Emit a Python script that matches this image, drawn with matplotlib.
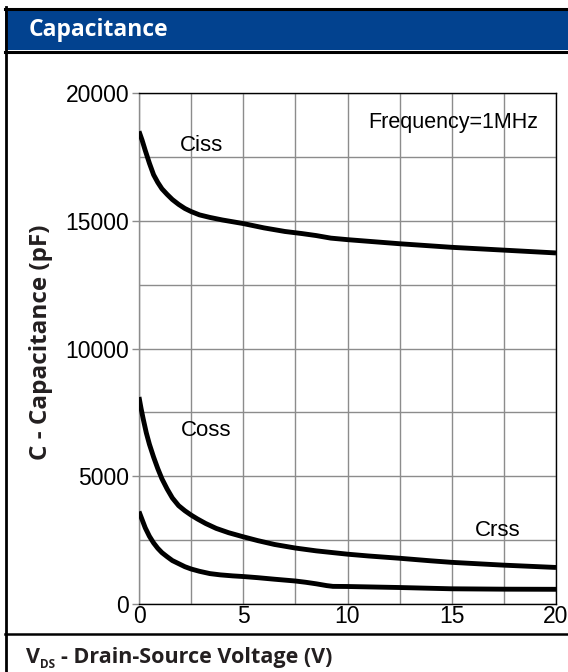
import matplotlib
matplotlib.use("Agg")
import matplotlib.pyplot as plt
from matplotlib import font_manager
from matplotlib.patches import Rectangle
from matplotlib.lines import Line2D
from matplotlib.ticker import MultipleLocator

# Curve data (V in volts, C in pF)
v_ciss = [0, 0.15, 0.3, 0.5, 0.7, 0.9, 1.1, 1.35, 1.6, 1.9, 2.2, 2.5, 2.9, 3.4, 4.0, 5.0, 6.0, 7.0,
          7.8, 8.5, 9.2, 10, 12.5, 15, 17.5, 20]
c_ciss = [18500, 18150, 17750, 17250, 16800, 16500, 16250, 16030, 15830, 15640, 15480, 15360, 15230,
          15130, 15030, 14890, 14720, 14580, 14500, 14420, 14320, 14260, 14100, 13960, 13850, 13740]

v_coss = [0, 0.1, 0.2, 0.35, 0.5, 0.7, 0.9, 1.1, 1.35, 1.6, 1.9, 2.2, 2.5, 2.8, 3.2, 3.7, 4.3, 5.0,
          5.7, 6.5, 7.5, 8.5, 10, 11, 12.5, 14, 15, 17.5, 20]
c_coss = [8100, 7650, 7250, 6700, 6250, 5750, 5300, 4900, 4500, 4150, 3850, 3650, 3480, 3330, 3150,
          2960, 2790, 2630, 2480, 2330, 2190, 2080, 1950, 1880, 1790, 1690, 1630, 1520, 1430]

v_crss = [0, 0.15, 0.3, 0.5, 0.7, 0.9, 1.1, 1.35, 1.6, 1.9, 2.2, 2.5, 2.9, 3.4, 3.9, 4.5, 5.0, 5.7,
          6.5, 7.5, 8.0, 8.5, 9.0, 9.3, 10, 12.5, 15, 17.5, 20]
c_crss = [3620, 3300, 2980, 2650, 2390, 2180, 2010, 1850, 1700, 1580, 1460, 1370, 1280, 1190, 1140,
          1100, 1075, 1030, 970, 900, 850, 790, 720, 690, 685, 645, 595, 580, 575]

curve_labels = ["Ciss", "Coss", "Crss"]
label_pos = [(3.0, 17950), (3.2, 6780), (17.2, 2880)]

W, H = 568, 672
BLUE = "#02428F"
GRID = "#8c8c8c"
INK = "#231f20"

installed = {f.name for f in font_manager.fontManager.ttflist}
bold_families = {f.name for f in font_manager.fontManager.ttflist
                 if isinstance(f.weight, int) and f.weight >= 700 or f.weight == "bold"}
HEAD_FONT = next((n for n in ["Noto Sans", "Open Sans", "Inter", "Lato", "DejaVu Sans"]
                  if n in bold_families), "DejaVu Sans")
if "Liberation Sans Narrow" in installed:
    TICK_FONT = dict(family="Liberation Sans Narrow", size=18)
else:
    TICK_FONT = dict(family="Liberation Sans", size=16.5)


def fx(x):
    return x / W


def fy(y):
    return 1 - y / H


fig = plt.figure(figsize=(W / 100, H / 100), dpi=100)
ax = fig.add_axes([fx(139), fy(604), fx(556) - fx(139), fy(93) - fy(604)])

for v, c in [(v_ciss, c_ciss), (v_coss, c_coss), (v_crss, c_crss)]:
    ax.plot(v, c, color="black", lw=3.5, solid_joinstyle="round", solid_capstyle="butt", zorder=3)

for name, (x, y) in zip(curve_labels, label_pos):
    ax.text(x, y, name, ha="center", va="center", family="Liberation Sans", size=16)
ax.text(15.06, 18850, "Frequency=1MHz", ha="center", va="center", family="Liberation Sans", size=15.5)

ax.set_xlim(0, 20)
ax.set_ylim(0, 20000)
ax.xaxis.set_major_locator(MultipleLocator(5))
ax.xaxis.set_minor_locator(MultipleLocator(2.5))
ax.yaxis.set_major_locator(MultipleLocator(5000))
ax.yaxis.set_minor_locator(MultipleLocator(2500))
ax.grid(which="both", color=GRID, lw=1, zorder=1)
ax.set_axisbelow(True)
ax.tick_params(axis="x", which="both", length=0, pad=1)
ax.tick_params(axis="y", which="major", length=5, width=1, color=GRID, pad=2)
ax.tick_params(axis="y", which="minor", length=0)
for lab in ax.get_xticklabels() + ax.get_yticklabels():
    lab.set_fontfamily(TICK_FONT["family"])
    lab.set_fontsize(TICK_FONT["size"])
for side in ["top", "right", "bottom"]:
    ax.spines[side].set_color("black")
    ax.spines[side].set_linewidth(1)
ax.spines["left"].set_color(GRID)
ax.spines["left"].set_linewidth(1)

# Frame and header bar
fig.add_artist(Rectangle((fx(5), fy(50)), 1 - fx(5), fy(10) - fy(50), transform=fig.transFigure,
                         facecolor=BLUE, edgecolor="none"))
fig.add_artist(Line2D([fx(5), 1], [fy(8.5), fy(8.5)], transform=fig.transFigure, color="black", lw=2.2))
fig.add_artist(Line2D([fx(5), 1], [fy(51.5), fy(51.5)], transform=fig.transFigure, color="black", lw=2.2))
fig.add_artist(Line2D([fx(6), fx(6)], [fy(7), 0], transform=fig.transFigure, color="black", lw=2))
fig.add_artist(Line2D([fx(5), 1], [fy(634), fy(634)], transform=fig.transFigure, color="black", lw=1.8))

fig.text(fx(29), fy(30), "Capacitance", color="white", weight="bold", family=HEAD_FONT,
         size=16.5, ha="left", va="center")

fig.text(fx(41), fy(342), "C - Capacitance (pF)", rotation=90, weight="bold", family=HEAD_FONT,
         size=17.5, ha="center", va="center", color=INK)

fig.text(fx(26), fy(663), "V", weight="bold", family=HEAD_FONT, size=15.5, ha="left",
         va="baseline", color=INK)
fig.text(fx(40), fy(667.5), "DS", weight="bold", family=HEAD_FONT, size=8.5, ha="left",
         va="baseline", color=INK)
fig.text(fx(61), fy(663), "- Drain-Source Voltage (V)", weight="bold", family=HEAD_FONT, size=15.5,
         ha="left", va="baseline", color=INK)

fig.savefig("out.png", dpi=100)
